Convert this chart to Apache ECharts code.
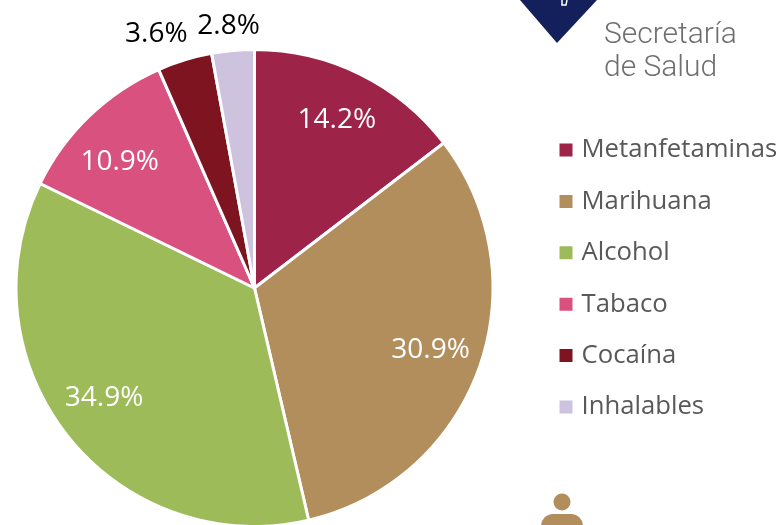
<!DOCTYPE html>
<html><head><meta charset="utf-8">
<style>html,body{margin:0;padding:0;background:#fff}#c{width:780px;height:525px}</style>
<script src="https://cdn.jsdelivr.net/npm/echarts@6/dist/echarts.min.js"></script>
</head><body><div id="c"></div>
<script>
const categories = ['Metanfetaminas','Marihuana','Alcohol','Tabaco','Cocaína','Inhalables'];
const values = [14.2,30.9,34.9,10.9,3.6,2.8];
const colors = ['#9E2349','#B28E5C','#9DBB59','#D9527F','#7D1420','#CDC3DE'];
const labelColors = ['#fff','#fff','#fff','#fff','#000','#000'];
const cx = 254.5, cy = 288, R = 238.5;
const labelRadius = [186,186,186,186,274,265];
const labelNudge = [[0,-1],[1,-1],[-5,-6],[-6,8],[-18,8],[-2,2]];
const chart = echarts.init(document.getElementById('c'), null, {renderer:'canvas'});
chart.setOption({
  animation:false,
  color:colors,
  legend:{
    orient:'vertical', left:557.5, top:135, padding:0, icon:'rect', itemWidth:15, itemHeight:15, itemGap:21.4,
    selectedMode:false,
    textStyle:{fontFamily:'Open Sans',fontSize:25.7,color:'#595959',padding:[0,0,0,3],lineHeight:30},
    data:categories
  },
  series:[{
    type:'pie', center:[cx,cy], radius:[0,R], startAngle:90, clockwise:true, silent:true,
    itemStyle:{borderColor:'#fff',borderWidth:3},
    label:{position:'inside',formatter:p=>p.value.toFixed(1)+'%',fontFamily:'Open Sans',fontSize:28},
    labelLine:{show:false},
    labelLayout:function(p){
      const r=p.labelRect, x=r.x+r.width/2-cx, y=r.y+r.height/2-cy, d=Math.hypot(x,y);
      const k=(labelRadius[p.dataIndex]-d)/d, n=labelNudge[p.dataIndex];
      return {dx:x*k+n[0], dy:y*k+n[1]};
    },
    data:categories.map((n,i)=>({name:n,value:values[i],label:{color:labelColors[i]}}))
  }],
  graphic:[
    {type:'polygon',shape:{points:[[520,0],[597,0],[557,43]]},style:{fill:'#13205C'}},
    {type:'polyline',shape:{points:[[562,0],[562,5],[566,5],[567,0]]},style:{stroke:'#fff',fill:null,lineWidth:1.5}},
    {type:'text',left:604,top:19,style:{text:'Secretaría\nde Salud',fontFamily:'Roboto',fontWeight:300,fontSize:30,lineHeight:33,fill:'#6F6F6F'}},
    {type:'circle',shape:{cx:562,cy:502,r:8.5},style:{fill:'#B28E5C'}},
    {type:'rect',shape:{x:541,y:514,width:42,height:30,r:[12,12,0,0]},style:{fill:'#B28E5C'}}
  ]
});
</script></body></html>
